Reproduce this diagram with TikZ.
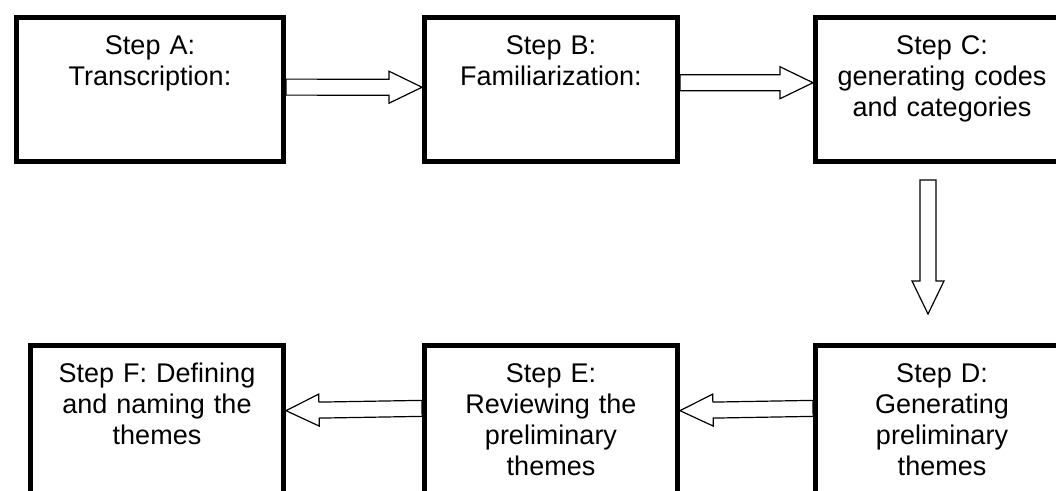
\documentclass[tikz,border=0pt]{standalone}
\usepackage{fontspec}
\setmainfont{Liberation Sans}
\usetikzlibrary{calc}

\tikzset{
  stepbox/.style={draw, line width=5pt, inner sep=0pt, align=center,
    text width=253pt, text height=37pt, text depth=107pt,
    font=\fontsize{27pt}{31pt}\selectfont},
  lowbox/.style={stepbox, text depth=125pt},
  hollow/.style={draw, line width=1.2pt, line join=miter, to path={
    ($(\tikztotarget)!33pt!(\tikztostart)$) coordinate (hb)
    ($(\tikztostart)!8pt!90:(\tikztotarget)$)
    -- ($(hb)!8pt!90:(\tikztotarget)$) -- ($(hb)!16pt!90:(\tikztotarget)$)
    -- (\tikztotarget)
    -- ($(hb)!16pt!-90:(\tikztotarget)$) -- ($(hb)!8pt!-90:(\tikztotarget)$)
    -- ($(\tikztostart)!8pt!-90:(\tikztotarget)$) -- cycle}}
}

\begin{document}
\begin{tikzpicture}[x=1pt, y=1pt]
        \path[use as bounding box, clip] (0,0) rectangle (1056,490);

        % Top row
        \node[stepbox, text width=267pt, anchor=north west] (stepA) at (14,475) {Step A:\\Transcription:};
        \node[stepbox, anchor=north west] (stepB) at (422,475) {Step B:\\Familiarization:};
        \node[stepbox, anchor=north west] (stepC) at (813,475) {Step C:\\generating codes\\and categories};

        % Bottom row
        \node[lowbox, anchor=north west] (stepF) at (28,147) {Step F: Defining\\and naming the\\themes};
        \node[lowbox, anchor=north west] (stepE) at (422,147) {Step E:\\Reviewing the\\preliminary\\themes};
        \node[lowbox, anchor=north west] (stepD) at (813,147) {Step D:\\Generating\\preliminary\\themes};

        % Arrows
        \coordinate (downTop) at ([xshift=-14pt, yshift=-16pt]stepC.south);
        \coordinate (downTip) at ([xshift=-14pt, yshift=29pt]stepD.north);

        \draw[hollow] (stepA.1) to (stepB.179);
        \draw[hollow] (stepB.3) to (stepC.177);
        \draw[hollow] (downTop) to (downTip);
        \draw[hollow] (stepD.172.6) to (stepE.7.4);
        \draw[hollow] (stepE.172.6) to (stepF.7.4);
    \end{tikzpicture}
\end{document}
